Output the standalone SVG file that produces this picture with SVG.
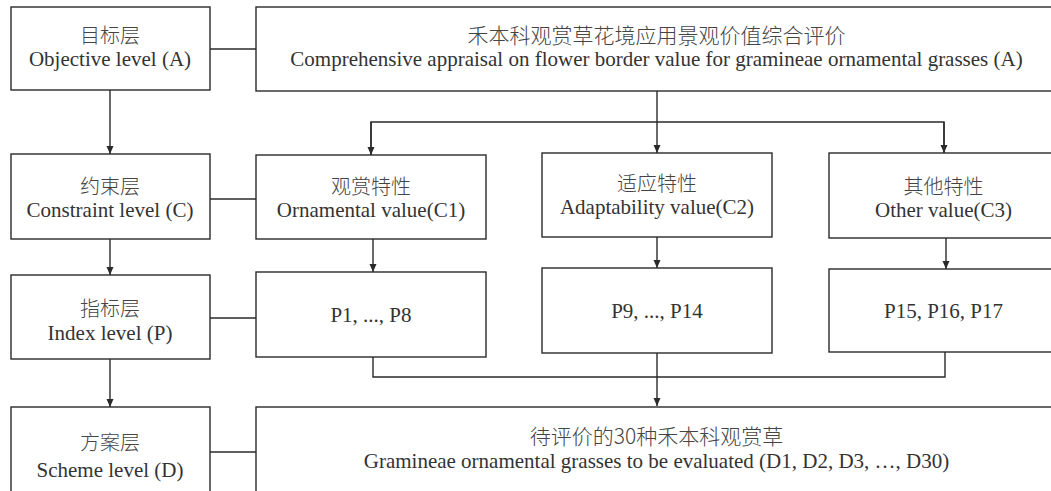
<svg xmlns="http://www.w3.org/2000/svg" width="1051" height="491" viewBox="0 0 1051 491">
<style>
.box{fill:#fff;stroke:#2a2a2a;stroke-width:1.4}
.ln{fill:none;stroke:#2a2a2a;stroke-width:1.4}
.t{font-family:"Liberation Serif","Noto Sans CJK SC",serif;font-size:21px;fill:#333;text-anchor:middle}
.zh{font-family:"Noto Sans CJK SC","Liberation Serif",sans-serif;font-size:20px;fill:#444;text-anchor:middle;font-weight:300}
.zhb{font-size:21px}
</style>
<defs>
<marker id="ah" markerUnits="userSpaceOnUse" markerWidth="9" markerHeight="8" refX="8" refY="3.5" orient="auto">
<path d="M0,0 L8,3.5 L0,7 z" fill="#2a2a2a"/>
</marker>
</defs>
<rect width="1051" height="491" fill="#fff"/>
<g id="connectors">
<line class="ln" x1="110" y1="90" x2="110" y2="154" marker-end="url(#ah)"/>
<line class="ln" x1="110" y1="239" x2="110" y2="275" marker-end="url(#ah)"/>
<line class="ln" x1="110" y1="359" x2="110" y2="407" marker-end="url(#ah)"/>
<line class="ln" x1="210" y1="49" x2="256" y2="49"/>
<line class="ln" x1="210" y1="199" x2="256" y2="199"/>
<line class="ln" x1="210" y1="318" x2="258" y2="318"/>
<line class="ln" x1="210" y1="452" x2="256" y2="452"/>
<line class="ln" x1="657" y1="91" x2="657" y2="153" marker-end="url(#ah)"/>
<polyline class="ln" points="371,155 371,122 944,122 944,153"/>
<line class="ln" x1="371" y1="122" x2="371" y2="155" marker-end="url(#ah)"/>
<line class="ln" x1="944" y1="122" x2="944" y2="153" marker-end="url(#ah)"/>
<line class="ln" x1="373" y1="239" x2="373" y2="272" marker-end="url(#ah)"/>
<line class="ln" x1="657" y1="237" x2="657" y2="268" marker-end="url(#ah)"/>
<line class="ln" x1="946" y1="238" x2="946" y2="269" marker-end="url(#ah)"/>
<polyline class="ln" points="373,357 373,377 945,377 945,352"/>
<line class="ln" x1="657" y1="353" x2="657" y2="406" marker-end="url(#ah)"/>
</g>
<g id="objective-level">
<rect class="box" x="11" y="7" width="199" height="83"/>
<text class="zh" x="110" y="43">目标层</text>
<text class="t" x="110" y="66">Objective level (A)</text>
</g>
<g id="goal-A">
<rect class="box" x="256" y="7" width="802" height="84"/>
<text class="zh zhb" x="656.5" y="43">禾本科观赏草花境应用景观价值综合评价</text>
<text class="t" x="656.5" y="66">Comprehensive appraisal on flower border value for gramineae ornamental grasses (A)</text>
</g>
<g id="constraint-level">
<rect class="box" x="11" y="154" width="199" height="85"/>
<text class="zh" x="110" y="194">约束层</text>
<text class="t" x="110" y="217">Constraint level (C)</text>
</g>
<g id="C1">
<rect class="box" x="256" y="155" width="230" height="84"/>
<text class="zh" x="371" y="194">观赏特性</text>
<text class="t" x="371" y="217">Ornamental value(C1)</text>
</g>
<g id="C2">
<rect class="box" x="542" y="153" width="230" height="84"/>
<text class="zh" x="657" y="191">适应特性</text>
<text class="t" x="657" y="214">Adaptability value(C2)</text>
</g>
<g id="C3">
<rect class="box" x="829" y="153" width="230" height="85"/>
<text class="zh" x="943.5" y="194">其他特性</text>
<text class="t" x="943.5" y="217">Other value(C3)</text>
</g>
<g id="index-level">
<rect class="box" x="11" y="275" width="199" height="84"/>
<text class="zh" x="110" y="316">指标层</text>
<text class="t" x="110" y="340">Index level (P)</text>
</g>
<g id="P1-P8">
<rect class="box" x="256" y="272" width="230" height="85"/>
<text class="t" x="371" y="322">P1, ..., P8</text>
</g>
<g id="P9-P14">
<rect class="box" x="542" y="268" width="230" height="85"/>
<text class="t" x="657" y="318">P9, ..., P14</text>
</g>
<g id="P15-P17">
<rect class="box" x="829" y="269" width="230" height="83"/>
<text class="t" x="943.5" y="318">P15, P16, P17</text>
</g>
<g id="scheme-level">
<rect class="box" x="11" y="407" width="199" height="100"/>
<text class="zh" x="110" y="450">方案层</text>
<text class="t" x="110" y="477">Scheme level (D)</text>
</g>
<g id="D">
<rect class="box" x="256" y="407" width="802" height="100"/>
<text class="zh zhb" x="656.5" y="444">待评价的30种禾本科观赏草</text>
<text class="t" x="656.5" y="468">Gramineae ornamental grasses to be evaluated (D1, D2, D3, …, D30)</text>
</g>
</svg>
